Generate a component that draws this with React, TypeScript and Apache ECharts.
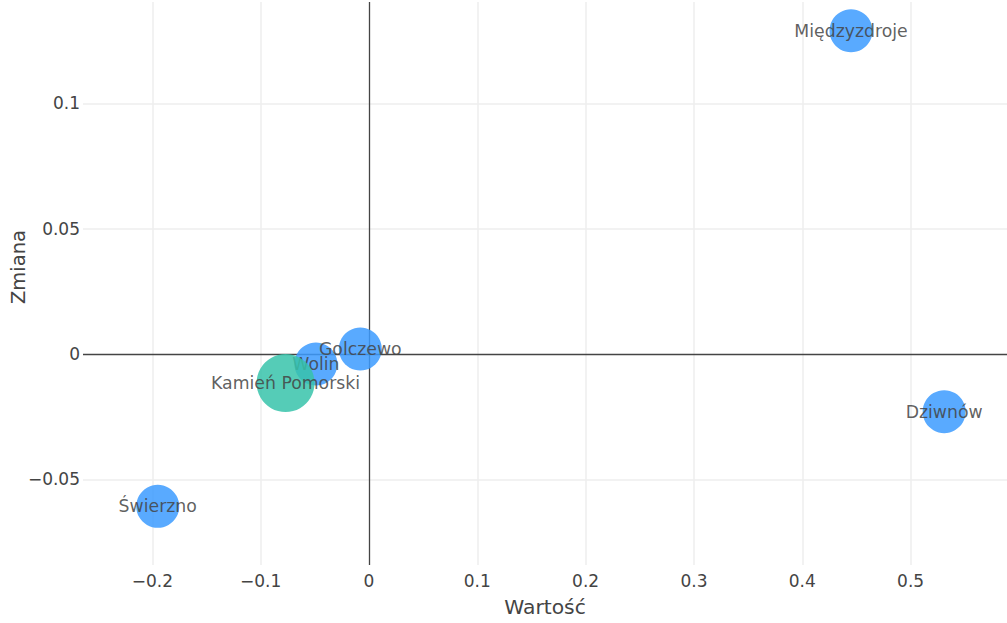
import React, { useEffect, useRef } from "react";
import * as echarts from "echarts";

const towns = ["Międzyzdroje", "Dziwnów", "Golczewo", "Wolin", "Kamień Pomorski", "Świerzno"];
const values = [0.445, 0.531, -0.008, -0.049, -0.077, -0.195];
const changes = [0.129, -0.023, 0.002, -0.004, -0.0116, -0.0608];
const highlighted = [false, false, false, false, true, false];

const xTicks = [-0.2, -0.1, 0, 0.1, 0.2, 0.3, 0.4, 0.5];
const yTicks = [-0.05, 0, 0.05, 0.1];
const xRange = [-0.264, 0.589];
const yRange = [-0.0842, 0.1405];

const FONT = "'DejaVu Sans', Verdana, sans-serif";

function fmt(v: number): string {
  const r = parseFloat(v.toFixed(4));
  if (r === 0) return "0";
  return r < 0 ? "\u2212" + String(Math.abs(r)) : String(r);
}

export default function App() {
  const ref = useRef<HTMLDivElement>(null);
  useEffect(() => {
    document.body.style.margin = "0";
    if (!ref.current) return;
    const chart = echarts.init(ref.current, undefined, { renderer: "svg" });

    const pts = (hl: boolean) =>
      towns
        .map((t, i) => ({ name: t, value: [values[i], changes[i]], hl: highlighted[i] }))
        .filter((d) => d.hl === hl)
        .map((d) => ({ name: d.name, value: d.value }));

    const label = {
      show: true,
      position: "inside",
      formatter: "{b}",
      color: "#444",
      fontFamily: FONT,
      fontSize: 17.3,
    };

    chart.setOption({
      animation: false,
      backgroundColor: "#fff",
      grid: { left: 83, right: 0, top: 2, bottom: 58, containLabel: false, outerBoundsMode: "none" },
      graphic: [
        {
          type: "text",
          x: 18,
          y: 267,
          rotation: Math.PI / 2,
          style: {
            text: "Zmiana",
            fill: "#444",
            font: "19.5px 'DejaVu Sans', Verdana, sans-serif",
            align: "center",
            verticalAlign: "middle",
          },
        },
      ],
      xAxis: {
        type: "value",
        min: xRange[0],
        max: xRange[1],
        minInterval: 0.1,
        maxInterval: 0.1,
        name: "Wartość",
        nameLocation: "middle",
        nameGap: 32,
        nameTextStyle: { color: "#444", fontFamily: FONT, fontSize: 20.3 },
        axisLine: { show: false },
        axisTick: { show: false },
        splitLine: { show: false },
        axisLabel: {
          color: "#444",
          fontFamily: FONT,
          fontSize: 17,
          margin: 7,
          showMinLabel: false,
          showMaxLabel: false,
          formatter: (v: number) => fmt(v),
        },
      },
      yAxis: {
        type: "value",
        min: yRange[0],
        max: yRange[1],
        minInterval: 0.05,
        maxInterval: 0.05,
        axisLine: { show: false },
        axisTick: { show: false },
        splitLine: { show: false },
        axisLabel: {
          color: "#444",
          fontFamily: FONT,
          fontSize: 17,
          margin: 3,
          showMinLabel: false,
          showMaxLabel: false,
          formatter: (v: number) => fmt(v),
        },
      },
      series: [
        {
          type: "scatter",
          z: 2,
          data: pts(false),
          symbolSize: 43,
          itemStyle: { color: "rgb(60,155,255)", opacity: 0.85 },
          label,
          markLine: {
            silent: true,
            z: 1,
            symbol: "none",
            label: { show: false },
            animation: false,
            data: [
              ...xTicks.filter((v) => v !== 0).map((v) => ({ xAxis: v, lineStyle: { color: "#eee", width: 1.5, type: "solid" } })),
              ...yTicks.filter((v) => v !== 0).map((v) => ({ yAxis: v, lineStyle: { color: "#eee", width: 1.5, type: "solid" } })),
              { xAxis: 0, lineStyle: { color: "#444", width: 1.3, type: "solid" } },
              { yAxis: 0, lineStyle: { color: "#444", width: 1.3, type: "solid" } },
            ],
          },
        },
        {
          type: "scatter",
          z: 3,
          data: pts(true),
          symbolSize: 58,
          itemStyle: { color: "rgb(55,195,170)", opacity: 0.85 },
          label,
        },
      ],
    });
    return () => chart.dispose();
  }, []);
  return <div ref={ref} style={{ width: 1007, height: 623 }} />;
}
